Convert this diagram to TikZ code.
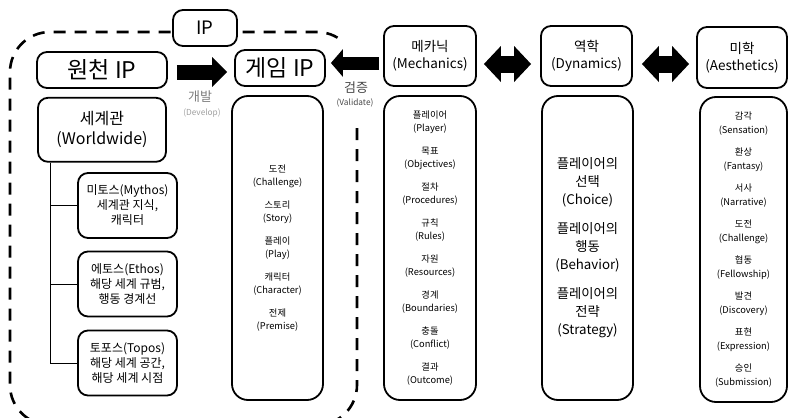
\documentclass[tikz,border=0pt]{standalone}
\usepackage{fontspec}
\setmainfont{Noto Sans CJK KR}
\usetikzlibrary{arrows.meta,positioning}
\definecolor{devgray}{RGB}{125,125,125}
\definecolor{devlight}{RGB}{160,160,160}
\definecolor{valgray}{RGB}{70,70,70}

\begin{document}
\begin{tikzpicture}[x=1pt,y=-1pt]
        \tikzset{
            box/.style={draw, fill=white, line width=1.8pt, rounded corners=10pt, align=center, inner sep=0pt},
            listbox/.style={box, rounded corners=16pt, minimum height=304pt},
            headbox/.style={box, minimum height=60pt, font=\fontsize{13.5}{17}\selectfont},
            subbox/.style={box, minimum width=99pt, minimum height=65pt, font=\fontsize{12}{15}\selectfont},
            bigfont/.style={font=\fontsize{23}{26}\selectfont},
            smallfont/.style={font=\fontsize{9.3}{13}\selectfont},
            blockarrow/.style={line width=#1}
        }
        \useasboundingbox (0,0) rectangle (788,418);
        % dashed IP region
        \draw[line width=2.6pt, dash pattern=on 12pt off 9pt]
        (357,128) -- (357,385) arc[start angle=0, end angle=90, radius=40]
        -- (50,425) arc[start angle=90, end angle=180, radius=40]
        -- (10,72) arc[start angle=180, end angle=270, radius=40]
        -- (317,32) arc[start angle=270, end angle=310, radius=40];
        \node[box, minimum width=64pt, minimum height=36pt, font=\fontsize{18.5}{20}\selectfont] (ip) at (205,28) {IP};
        % left part
        \node[box, bigfont, minimum width=130pt, minimum height=36pt] (src) at (102,70) {원천 IP};
        \node[box, bigfont, minimum width=90pt, minimum height=36pt] (game) at (280,68) {게임 IP};
        \node[box, minimum width=128pt, minimum height=64pt, font=\fontsize{16}{20}\selectfont, below=8pt of src] (world) {세계관\\(Worldwide)};
        \node[subbox] (mythos) at (127.5,205.5) {미토스(Mythos)\\세계관 지식,\\캐릭터};
        \node[subbox] (ethos) at (127.5,284) {에토스(Ethos)\\해당 세계 규범,\\행동 경계선};
        \node[subbox] (topos) at (127.5,363) {토포스(Topos)\\해당 세계 공간,\\해당 세계 시점};
        \coordinate (trunk) at ([xshift=13pt]world.south west);
        \draw[line width=0.7pt] (trunk) |- (mythos.west);
        \draw[line width=0.7pt] (trunk) |- (ethos.west);
        \draw[line width=0.7pt] (trunk) |- (topos.west);
        \node[listbox, smallfont, minimum width=91pt] (gamelist) at (277.5,248)
        {도전\\(Challenge)\\[10pt]스토리\\(Story)\\[10pt]플레이\\(Play)\\[10pt]캐릭터\\(Character)\\[10pt]전제\\(Premise)};
        % MDA part
        \node[headbox, minimum width=92pt] (mech) at (430,56) {메카닉\\(Mechanics)};
        \node[headbox, minimum width=91pt] (dyn) at (586.5,56) {역학\\(Dynamics)};
        \node[headbox, minimum width=90pt, minimum height=61pt] (aes) at (742,57.5) {미학\\(Aesthetics)};
        \node[listbox, smallfont, minimum width=92pt] (mechlist) at (430,248)
        {플레이어\\(Player)\\[10pt]목표\\(Objectives)\\[10pt]절차\\(Procedures)\\[10pt]규칙\\(Rules)\\[10pt]자원\\(Resources)\\[10pt]경계\\(Boundaries)\\[10pt]충돌\\(Conflict)\\[10pt]결과\\(Outcome)};
        \node[listbox, minimum width=91pt, font=\fontsize{13.3}{18}\selectfont] (dynlist) at (587.5,248)
        {플레이어의\\선택\\(Choice)\\[11pt]플레이어의\\행동\\(Behavior)\\[11pt]플레이어의\\전략\\(Strategy)};
        \node[listbox, font=\fontsize{9.3}{13.5}\selectfont, minimum width=87pt, minimum height=305pt] (aeslist) at (743.5,249.5)
        {감각\\(Sensation)\\[9pt]환상\\(Fantasy)\\[9pt]서사\\(Narrative)\\[9pt]도전\\(Challenge)\\[9pt]협동\\(Fellowship)\\[9pt]발견\\(Discovery)\\[9pt]표현\\(Expression)\\[9pt]승인\\(Submission)};
        % block arrows
        \draw[blockarrow=15pt, -{Triangle[length=15pt,width=29pt]}, shorten <=9pt, shorten >=7pt]
        ([yshift=-2pt]src.east) -- ([yshift=-2pt]src.east -| game.west);
        \draw[blockarrow=13pt, -{Triangle[length=12pt,width=27pt]}, shorten <=4pt, shorten >=5pt]
        ([yshift=-7pt]mech.west) -- ([yshift=-7pt]mech.west -| game.east);
        \draw[blockarrow=17pt, {Triangle[length=17pt,width=35pt]}-{Triangle[length=17pt,width=35pt]}, shorten <=7pt, shorten >=9pt]
        ([yshift=-8pt]mech.east) -- ([yshift=-8pt]mech.east -| dyn.west);
        \draw[blockarrow=17pt, {Triangle[length=17pt,width=35pt]}-{Triangle[length=17pt,width=35pt]}, shorten <=9pt, shorten >=7pt]
        ([yshift=-8pt]dyn.east) -- ([yshift=-8pt]dyn.east -| aes.west);
        % arrow labels
        \node[text=devgray, font=\fontsize{13}{14}\selectfont] (develop) at (200,97) {개발};
        \node[text=devlight, font=\fontsize{8.3}{9}\selectfont] (developen) at (202,113) {(Develop)};
        \node[text=valgray, font=\fontsize{13}{14}\selectfont] (validate) at (356,88) {검증};
        \node[text=valgray, font=\fontsize{8.3}{9}\selectfont] (validateen) at (355,103) {(Validate)};
    \end{tikzpicture}
\end{document}
